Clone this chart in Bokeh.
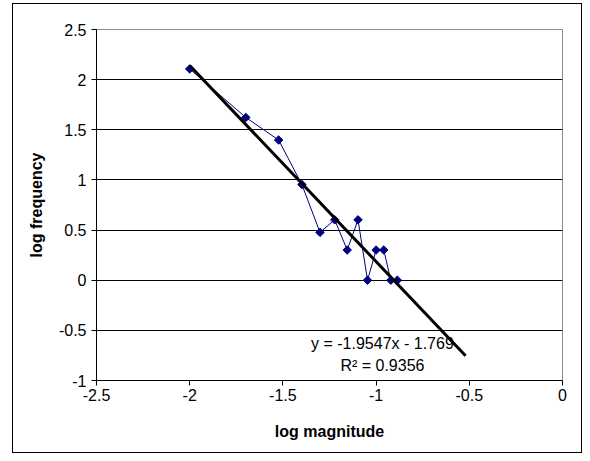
import numpy as np
from bokeh.plotting import figure
from bokeh.models import FixedTicker, CustomJSTickFormatter, Label, InlineStyleSheet
from bokeh.embed import file_html
from bokeh.resources import INLINE

# data (log magnitude vs log frequency)
log_magnitude = [-2.0, -1.699, -1.523, -1.398, -1.301, -1.222, -1.155, -1.097,
                 -1.046, -1.0, -0.959, -0.921, -0.886]
log_frequency = [2.107, 1.623, 1.398, 0.954, 0.477, 0.602, 0.301, 0.602,
                 0.0, 0.301, 0.301, 0.0, 0.0]

# linear trendline
slope = -1.9547
intercept = -1.769
trend_x = [-2.0, -0.52]
trend_y = [slope * x + intercept for x in trend_x]
eq_text = "y = -1.9547x - 1.769"
r2_text = "R\u00b2 = 0.9356"

x_ticks = [-2.5, -2.0, -1.5, -1.0, -0.5, 0.0]
y_ticks = [-1.0, -0.5, 0.0, 0.5, 1.0, 1.5, 2.0, 2.5]

FONT = "Liberation Sans"
W, H = 582, 453

p = figure(width=W, height=H, x_range=(-2.5, 0), y_range=(-1, 2.5),
           output_backend="svg", toolbar_location=None,
           min_border_left=96, min_border_right=20, min_border_top=29,
           min_border_bottom=73)
p.background_fill_color = "white"
p.border_fill_color = "white"
p.outline_line_color = "#8c8c8c"
p.outline_line_width = 1

p.xgrid.visible = False
p.ygrid.grid_line_color = "black"
p.ygrid.grid_line_width = 1
p.ygrid.ticker = FixedTicker(ticks=y_ticks)

fmt = CustomJSTickFormatter(code="return tick.toString();")
for ax, ticks in ((p.xaxis[0], x_ticks), (p.yaxis[0], y_ticks)):
    ax.ticker = FixedTicker(ticks=ticks)
    ax.formatter = fmt
    ax.minor_tick_line_color = None
    ax.major_tick_in = 0
    ax.major_tick_out = 5
    ax.major_tick_line_color = "black"
    ax.axis_line_color = "black"
    ax.major_label_text_font = FONT
    ax.major_label_text_font_size = "16px"
    ax.major_label_text_color = "black"
    ax.axis_label_text_font = FONT
    ax.axis_label_text_font_size = "16px"
    ax.axis_label_text_font_style = "bold"
    ax.axis_label_text_color = "black"

p.xaxis.axis_label = "log magnitude"
p.yaxis.axis_label = "log frequency"
p.xaxis.major_label_standoff = 3
p.yaxis.major_label_standoff = 5
p.xaxis.axis_label_standoff = 19
p.yaxis.axis_label_standoff = 11

p.line(log_magnitude, log_frequency, line_color="#000080", line_width=1)
p.scatter(log_magnitude, log_frequency, marker="square", angle=np.pi / 4,
          size=6, fill_color="#000080", line_color="#000080")
p.line(trend_x, trend_y, line_color="black", line_width=3)

p.add_layout(Label(x=-0.966, y=-0.63, text=eq_text, text_align="center",
                   text_baseline="middle", text_font=FONT,
                   text_font_size="16px", text_color="black"))
p.add_layout(Label(x=-0.966, y=-0.85, text=r2_text, text_align="center",
                   text_baseline="middle", text_font=FONT,
                   text_font_size="16px", text_color="black"))

# outer chart-area border
p.stylesheets = [InlineStyleSheet(css="""
:host::after {
  content: "";
  position: absolute;
  left: 12px;
  top: 3px;
  width: 570px;
  height: 450px;
  box-sizing: border-box;
  border: 1px solid #000;
  pointer-events: none;
  z-index: 10;
}
""")]

open("out.html", "w").write(file_html(p, INLINE))
